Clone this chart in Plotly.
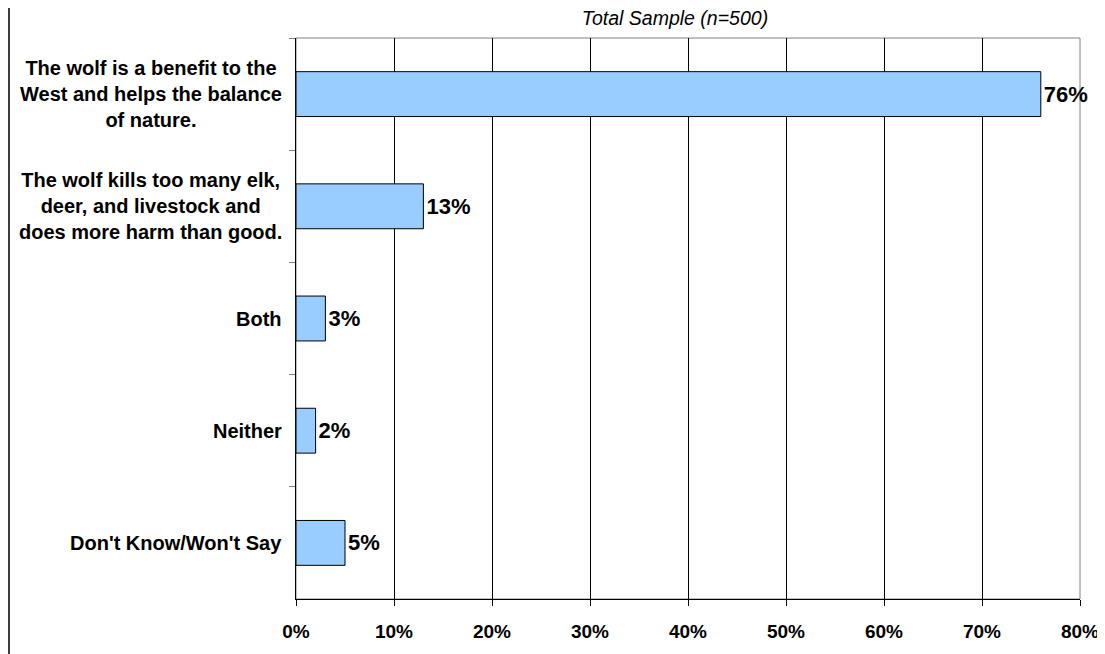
import plotly.graph_objects as go

# Datos
categorias = [
    "The wolf is a benefit to the<br>West and helps the balance<br>of nature.",
    "The wolf kills too many elk,<br>deer, and livestock and<br>does more harm than good.",
    "Both",
    "Neither",
    "Don't Know/Won't Say",
]
valores = [76, 13, 3, 2, 5]
ticks_x = [0, 10, 20, 30, 40, 50, 60, 70, 80]
etiquetas_x = [f"{t}%" for t in ticks_x]
titulo = "Total Sample (n=500)"

FUENTE = "Arial, Liberation Sans, sans-serif"
claves = [f"c{i}" for i in range(len(categorias))]

# ── Tamaño (la página tiene 8px de margen en body) ─────────────────────────
ANCHO, ALTO = 1097, 646
M_IZQ, M_DER, M_SUP, M_INF = 288, 25, 30, 55
ancho_plot = ANCHO - M_IZQ - M_DER

fig = go.Figure()

fig.add_trace(go.Bar(
    x=valores,
    y=claves,
    orientation="h",
    marker=dict(color="#99CCFF", line=dict(color="black", width=1)),
    width=0.4,
    text=[f"{v}%" for v in valores],
    textposition="outside",
    textfont=dict(size=22, color="black", family=FUENTE, weight="bold"),
    cliponaxis=False,
    hoverinfo="skip",
))

# ── Etiquetas de categoría centradas (multilínea) ──────────────────────────
for clave, cat in zip(claves, categorias):
    fig.add_annotation(
        x=0, xref="paper", y=clave, yref="y",
        text=f"<b>{cat}</b>",
        showarrow=False, xanchor="right", align="center",
        xshift=-12,
        font=dict(size=20, color="black", family=FUENTE),
    )

# ── Borde gris del área de trazado y línea a la izquierda ──────────────────
fig.add_shape(type="rect", xref="paper", yref="paper", x0=0, x1=1, y0=0, y1=1,
              line=dict(color="#808080", width=1), layer="below")
x_linea = (1 - M_IZQ) / ancho_plot
fig.add_shape(type="line", xref="paper", yref="paper", x0=x_linea, x1=x_linea,
              y0=-0.2, y1=1.1, line=dict(color="#404040", width=2))

fig.update_layout(
    title=dict(text=f"<i>{titulo}</i>", x=667 / ANCHO, xanchor="center",
               y=1 - 10 / ALTO, yanchor="middle",
               font=dict(size=19.5, color="black", family=FUENTE)),
    width=ANCHO, height=ALTO,
    margin=dict(l=M_IZQ, r=M_DER, t=M_SUP, b=M_INF, autoexpand=False),
    paper_bgcolor="white",
    plot_bgcolor="white",
    showlegend=False,
    font=dict(family=FUENTE),
    xaxis=dict(
        range=[0, 80],
        tickvals=ticks_x,
        ticktext=[f"<b>{t}</b>" for t in etiquetas_x],
        tickfont=dict(size=19, color="black"),
        showgrid=True, gridcolor="black", gridwidth=1,
        showline=True, linecolor="black", linewidth=1,
        ticks="outside", ticklen=6, tickcolor="black",
        ticklabelstandoff=9,
        zeroline=False,
        automargin=False,
        fixedrange=True,
    ),
    yaxis=dict(
        autorange="reversed",
        categoryorder="array", categoryarray=claves,
        showticklabels=False,
        showline=True, linecolor="black", linewidth=1,
        ticks="outside", ticklen=6, tickcolor="#808080",
        tickson="boundaries",
        showgrid=False,
        automargin=False,
        fixedrange=True,
    ),
)

fig.write_html("out.html")
